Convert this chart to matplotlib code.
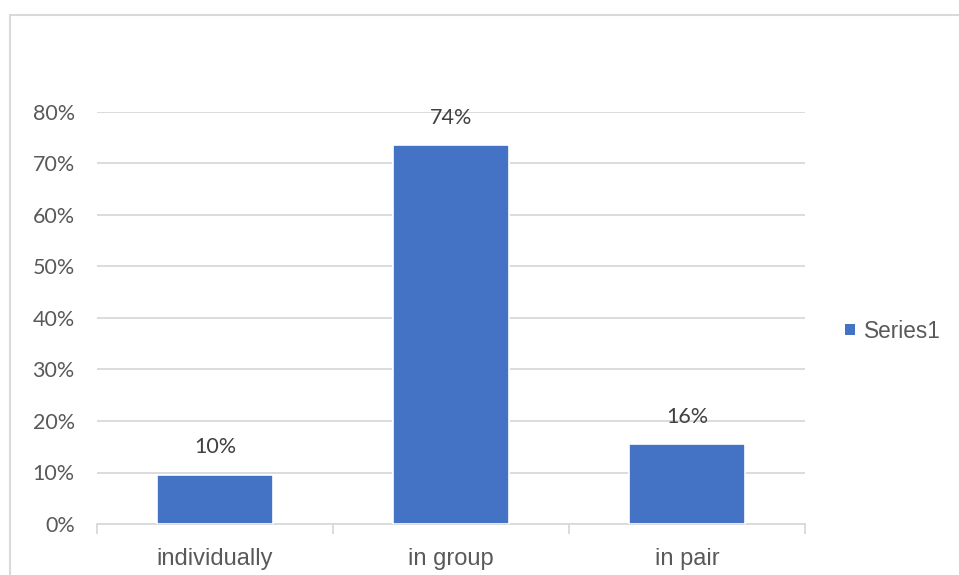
import matplotlib
matplotlib.use("Agg")
import matplotlib.pyplot as plt
from matplotlib.patches import Rectangle, Patch
from matplotlib.ticker import PercentFormatter, MultipleLocator

categories = ["individually", "in group", "in pair"]
values = [0.096, 0.736, 0.156]
series_name = "Series1"

BAR = "#4472C4"
GRID = "#d9d9d9"
TEXT = "#595959"
NUM_FONT = ["Lato", "DejaVu Sans"]

plt.rcParams["font.family"] = ["Liberation Sans", "DejaVu Sans"]

fig = plt.figure(figsize=(9.59, 5.75), dpi=100)
ax = fig.add_axes([97 / 959, 1 - 524 / 575, (805 - 97) / 959, (524 - 112) / 575])

x = list(range(len(categories)))
bars = ax.bar(x, values, width=0.49, color=BAR, edgecolor="white", linewidth=1.2, zorder=3)

for rect, v in zip(bars, values):
    ax.annotate(f"{v:.0%}", (rect.get_x() + rect.get_width() / 2, v),
                xytext=(0, 19.5), textcoords="offset points",
                ha="center", va="center", fontsize=15.5, color="#404040",
                family=NUM_FONT, zorder=4)

ax.set_xlim(-0.5, len(categories) - 0.5)
ax.set_ylim(0, 0.8)
ax.yaxis.set_major_locator(MultipleLocator(0.1))
ax.yaxis.set_major_formatter(PercentFormatter(1.0, decimals=0))
ax.grid(axis="y", color=GRID, linewidth=1.3, zorder=0)
ax.set_axisbelow(True)

for side in ("top", "right", "left"):
    ax.spines[side].set_visible(False)
ax.spines["bottom"].set_color(GRID)
ax.spines["bottom"].set_linewidth(1.3)

# category labels centred, tick marks between categories
ax.set_xticks(x)
ax.set_xticklabels(categories, fontsize=17, color=TEXT)
ax.tick_params(axis="x", length=0, pad=17)
ax.set_xticks([i - 0.5 for i in range(len(categories) + 1)], minor=True)
ax.tick_params(axis="x", which="minor", length=7, width=1.3, color=GRID)
ax.tick_params(axis="y", length=0, pad=16, labelsize=15.5, labelcolor=TEXT)
for lbl in ax.get_yticklabels():
    lbl.set_family(NUM_FONT)

# chart area border
fig.patches.append(Rectangle((10 / 959, -0.2), 1.2, 1 - 15 / 575 + 0.2,
                             transform=fig.transFigure, fill=False,
                             edgecolor=GRID, linewidth=1.5, clip_on=False))

fig.legend(handles=[Patch(facecolor=BAR, edgecolor="none", label=series_name)],
           loc="center left", bbox_to_anchor=(845 / 959, 1 - 331 / 575),
           frameon=False, fontsize=16.3, labelcolor=TEXT,
           handlelength=0.42, handleheight=0.36, handletextpad=0.4,
           borderpad=0, borderaxespad=0)

fig.savefig("out.png", dpi=100, facecolor="white")
